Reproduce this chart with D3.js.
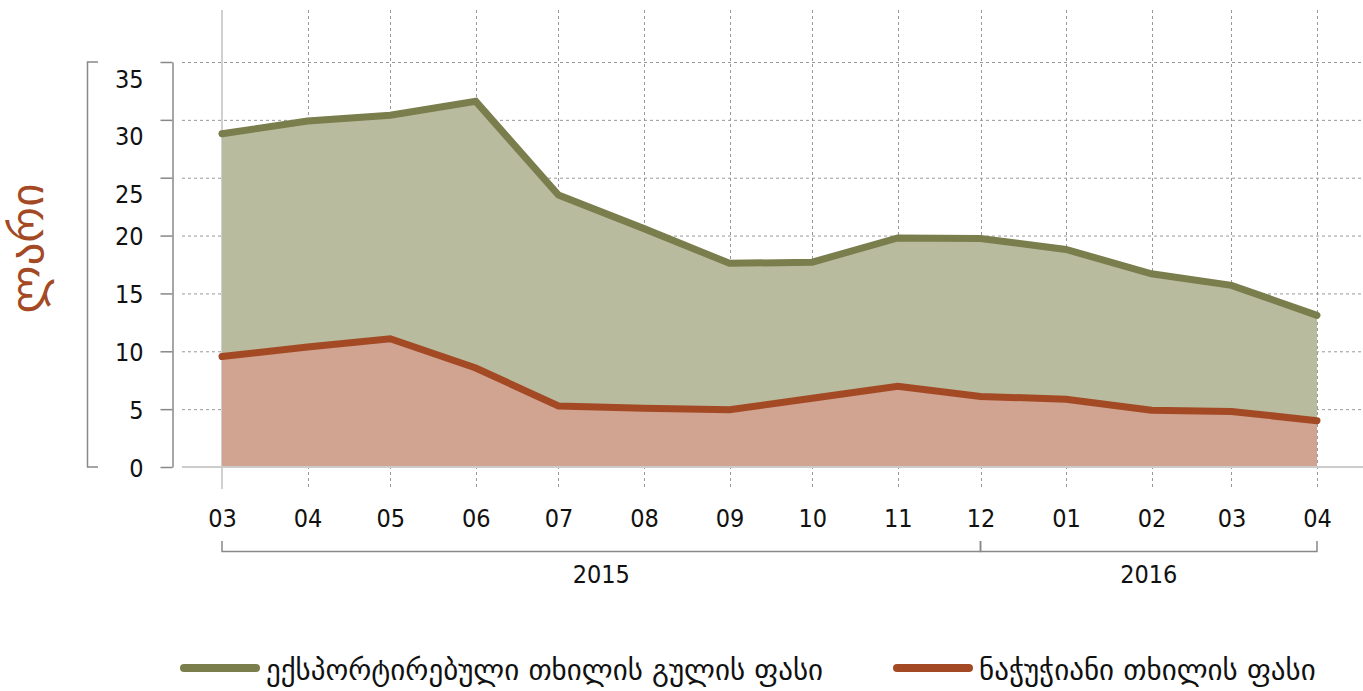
<!DOCTYPE html>
<html><head><meta charset="utf-8">
<script src="https://cdn.jsdelivr.net/npm/d3@7"></script>
<style>body{margin:0;background:#fff}svg{display:block}text{font-family:"DejaVu Sans",sans-serif}.num{font-family:"DejaVu Sans Condensed","DejaVu Sans",sans-serif;font-stretch:condensed}</style>
</head><body>
<svg id="c" width="1363" height="691"></svg>
<script>
const months = ["2015-03","2015-04","2015-05","2015-06","2015-07","2015-08","2015-09","2015-10","2015-11","2015-12","2016-01","2016-02","2016-03","2016-04"];
const monthLabels = ["03","04","05","06","07","08","09","10","11","12","01","02","03","04"];
const kernelPrice = [28.8,29.9,30.4,31.6,23.5,20.6,17.6,17.7,19.8,19.75,18.8,16.7,15.7,13.1];
const rawPrice = [9.55,10.37,11.08,8.56,5.27,5.08,4.95,5.94,6.97,6.1,5.86,4.9,4.8,4.0];
const yTicks = [0,5,10,15,20,25,30,35];
const years = [{label:"2015",from:"2015-03",to:"2015-12"},{label:"2016",from:"2015-12",to:"2016-04"}];
const seriesNames = ["ექსპორტირებული თხილის გულის ფასი","ნაჭუჭიანი თხილის ფასი"];
const yTitle = "ლარი";

const svg = d3.select("#c");
const parse = d3.timeParse("%Y-%m");
const dates = months.map(parse);
const x = d3.scaleTime().domain([dates[0], dates[dates.length-1]]).range([222,1317]);
const y = d3.scaleLinear().domain([0,35]).range([467,62]);

const green = "#7a7d4c", greenFill = "#b8bb9e", red = "#a34a25", redFill = "#d1a391";

// grid horizontal
svg.append("g").selectAll("line").data(yTicks.filter(d=>d>0)).join("line")
  .attr("x1",182).attr("x2",1363).attr("y1",d=>y(d)+0.5).attr("y2",d=>y(d)+0.5)
  .attr("stroke","#999").attr("stroke-dasharray","3,3").attr("stroke-width",1);
// grid vertical
svg.append("g").selectAll("line").data(dates.slice(1)).join("line")
  .attr("x1",d=>Math.round(x(d))+0.5).attr("x2",d=>Math.round(x(d))+0.5).attr("y1",10).attr("y2",489)
  .attr("stroke","#999").attr("stroke-dasharray","3,3").attr("stroke-width",1);
svg.append("line").attr("x1",x(dates[0])).attr("x2",x(dates[0])).attr("y1",10).attr("y2",489)
  .attr("stroke","#d0d0d0").attr("stroke-width",2);

// areas
const idx = d3.range(months.length);
const areaG = d3.area().x(i=>x(dates[i])).y0(y(0)).y1(i=>y(kernelPrice[i]));
const areaR = d3.area().x(i=>x(dates[i])).y0(y(0)).y1(i=>y(rawPrice[i]));
svg.append("path").attr("d",areaG(idx)).attr("fill",greenFill);
svg.append("path").attr("d",areaR(idx)).attr("fill",redFill);

// baseline
svg.append("line").attr("x1",182).attr("x2",1363).attr("y1",y(0)).attr("y2",y(0)).attr("stroke","#ccc").attr("stroke-width",2);

// lines
const lineG = d3.line().x(i=>x(dates[i])).y(i=>y(kernelPrice[i]));
const lineR = d3.line().x(i=>x(dates[i])).y(i=>y(rawPrice[i]));
svg.append("path").attr("d",lineG(idx)).attr("fill","none").attr("stroke",green).attr("stroke-width",7).attr("stroke-linecap","round");
svg.append("path").attr("d",lineR(idx)).attr("fill","none").attr("stroke",red).attr("stroke-width",7).attr("stroke-linecap","round");

// y axis
const yAxis = d3.axisLeft(y).tickValues(yTicks).tickSize(12).tickPadding(17).tickSizeOuter(0);
const ya = svg.append("g").attr("transform","translate(172.5,0)").call(yAxis);
ya.selectAll("path,line").attr("stroke","#888").attr("stroke-width",1.5);
ya.selectAll("text").attr("class","num").attr("font-size",25).attr("fill","#111")
  .attr("dy", d => d > 20 ? "1.0em" : "0.36em");
// bracket
svg.append("path").attr("d",`M98,${y(35)}H87.5V${y(0)}H98`).attr("fill","none").attr("stroke","#888").attr("stroke-width",1.5);
// rotated title: baseline placed so glyphs (x-height only) sit at x≈9..43
svg.append("text").attr("transform",`translate(43,${(y(35)+y(0))/2-16}) rotate(-90)`).attr("text-anchor","middle")
  .attr("font-size",45).attr("fill",red).text(yTitle);

// x axis labels
const xAxis = d3.axisBottom(x).tickValues(dates).tickFormat((d,i)=>monthLabels[i]).tickSize(0).tickPadding(0);
const xa = svg.append("g").attr("transform","translate(0,527)").call(xAxis);
xa.select(".domain").remove();
xa.selectAll("text").attr("class","num").attr("font-size",25).attr("fill","#111").attr("dy","0");

// year brackets
const yb = svg.append("g");
years.forEach(yr=>{
  const a = x(parse(yr.from)), b = x(parse(yr.to));
  yb.append("path").attr("d",`M${a},541V551.5H${b}V541`).attr("fill","none").attr("stroke","#888").attr("stroke-width",1.5);
  yb.append("text").attr("class","num").attr("x",(a+b)/2).attr("y",583).attr("text-anchor","middle").attr("font-size",25).attr("fill","#111").text(yr.label);
});

// legend
const leg = [{x:180,c:green,t:seriesNames[0]},{x:893,c:red,t:seriesNames[1]}];
leg.forEach(l=>{
  svg.append("line").attr("x1",l.x+4).attr("x2",l.x+76).attr("y1",668).attr("y2",668).attr("stroke",l.c).attr("stroke-width",8).attr("stroke-linecap","round");
  svg.append("text").attr("x",l.x+86).attr("y",680).attr("font-size",29).attr("fill","#111").text(l.t);
});
</script>
</body></html>
